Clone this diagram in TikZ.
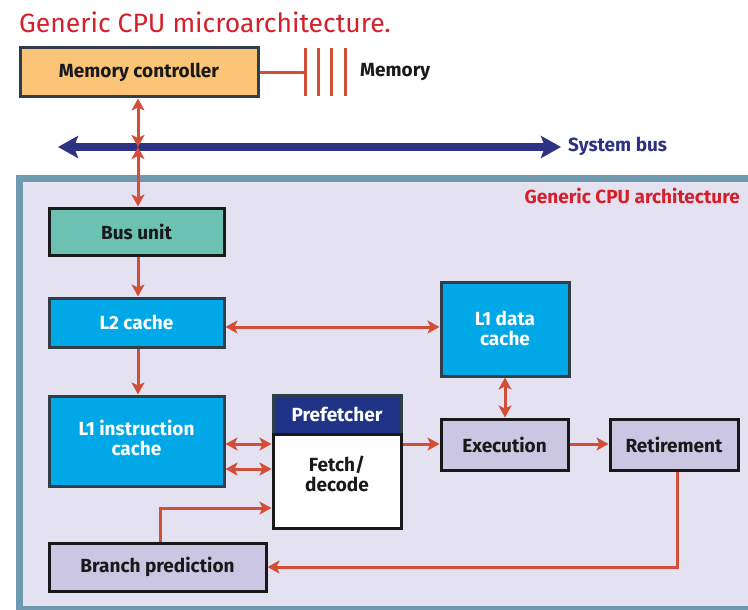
\documentclass[tikz,border=0pt]{standalone}
\usepackage{fontspec}
\setmainfont{Fira Sans}
\usetikzlibrary{arrows.meta}
\definecolor{mcorange}{HTML}{FBC477}
\definecolor{darkedge}{HTML}{2F3E48}
\definecolor{teal1}{HTML}{6BC2B2}
\definecolor{cyan1}{HTML}{00A8E8}
\definecolor{navy1}{HTML}{1F3487}
\definecolor{lav}{HTML}{CBC7E3}
\definecolor{panelfill}{HTML}{E4E2F1}
\definecolor{paneledge}{HTML}{6F9AB0}
\definecolor{arrred}{HTML}{D24E36}
\definecolor{titlered}{HTML}{D71E2B}
\definecolor{busblue}{HTML}{2E3282}
\tikzset{
  boxfont/.style={font=\fontsize{19}{21}\selectfont\bfseries},
  box/.style={draw=darkedge, line width=3pt, rectangle, inner sep=0pt, align=center, boxfont},
  darkbox/.style={box, draw=black!90},
  rarr/.style={draw=arrred, line width=3pt, >={Stealth[length=12pt,width=13pt,inset=3pt]}},
  plainline/.style={draw=arrred, line width=3pt},
}
\begin{document}
\begin{tikzpicture}[x=1pt,y=-1pt]
\useasboundingbox (0,0) rectangle (748,610);
\clip (0,0) rectangle (748,610);
\fill[white] (0,0) rectangle (748,610);
% title
\node[anchor=base west, inner sep=0pt, text=titlered, font=\fontsize{26.5}{30}\selectfont] (title) at (19,33) {Generic CPU microarchitecture.};
% panel
\fill[panelfill] (16,175) rectangle (780,612);
\draw[paneledge, line width=7pt] (19.5,178.5) rectangle (790,609.5);
\node[anchor=east, inner sep=0pt, text=titlered, boxfont] (cpulabel) at (740,196) {Generic CPU architecture};
% boxes
\node[box, fill=mcorange, minimum width=238pt, minimum height=49pt, text=black!90] (mc) at (139,72.5) {Memory controller};
\node[darkbox, fill=teal1, minimum width=175pt, minimum height=47pt, text=black!90] (bus) at (136.5,231.5) {Bus unit};
\node[box, fill=cyan1, minimum width=175pt, minimum height=49pt, text=white] (l2) at (136.5,322.5) {L2 cache};
\node[box, fill=cyan1, minimum width=128pt, minimum height=94pt, text=white,
      label={[yshift=1pt, boxfont, text=white, align=center]center:L1 data\\[-1pt]cache}] (l1d) at (505,329) {};
\node[box, fill=cyan1, minimum width=175pt, minimum height=90pt, text=white,
      label={[yshift=3pt, boxfont, text=white, align=center]center:L1 instruction\\[-1pt]cache}] (l1i) at (136.5,441) {};
\node[box, fill=navy1, minimum width=128pt, minimum height=39pt, text=white] (pre) at (337,414.5) {Prefetcher};
\node[darkbox, fill=white, minimum width=128pt, minimum height=94pt,
      label={[yshift=7pt, boxfont, text=black!90, align=center]center:Fetch/\\[-1pt]decode}] (fetch) at (337,481) {};
\node[darkbox, fill=lav, minimum width=127pt, minimum height=51pt, text=black!90] (exe) at (504.5,444.5) {Execution};
\node[darkbox, fill=lav, minimum width=128pt, minimum height=51pt, text=black!90] (ret) at (674,444.5) {Retirement};
\node[darkbox, fill=lav, minimum width=217pt, minimum height=48pt, text=black!90] (bp) at (157.5,567) {Branch prediction};
% memory
\coordinate (m1) at (305,48); \coordinate (m1b) at (305,96);
\coordinate (m2) at (318,48); \coordinate (m2b) at (318,96);
\coordinate (m3) at (331,48); \coordinate (m3b) at (331,96);
\coordinate (m4) at (345,48); \coordinate (m4b) at (345,96);
\draw[plainline] (mc.east) -- (mc.east -| m1);
\draw[plainline] (m1) -- (m1b);
\draw[plainline] (m2) -- (m2b);
\draw[plainline] (m3) -- (m3b);
\draw[plainline] (m4) -- (m4b);
\node[anchor=west, inner sep=0pt, boxfont, text=black!90] (memlabel) at (360,72) {Memory};
% system bus
\coordinate (sbl) at (58,147);
\coordinate (sbr) at (561,147);
\coordinate (sb) at (138,147);
\draw[busblue, line width=7pt, <->, >={Stealth[length=20pt,width=22pt,inset=4pt]}] (sbl) -- (sbr);
\node[anchor=west, inner sep=0pt, boxfont, text=busblue] (sblabel) at (568,146) {System bus};
% connectors
\draw[rarr, <->] (sb |- mc.south) -- (sb);
\draw[rarr, <->] (sb) -- (sb |- bus.north);
\draw[rarr, ->] (sb |- bus.south) -- (sb |- l2.north);
\draw[rarr, ->] (sb |- l2.south) -- (sb |- l1i.north);
\coordinate (y327) at (0,327);
\draw[rarr, <->] (l2.east |- y327) -- (l1d.west |- y327);
\draw[rarr, <->] (l1d.south) -- (l1d.south |- exe.north);
\coordinate (y444) at (0,444);
\coordinate (y469) at (0,469);
\coordinate (y508) at (0,508);
\draw[rarr, <->] (l1i.east |- y444) -- (fetch.west |- y444);
\draw[rarr, <->] (l1i.east |- y469) -- (fetch.west |- y469);
\draw[rarr, ->] (fetch.east |- y444) -- (exe.west |- y444);
\draw[rarr, ->] (exe.east |- y444) -- (ret.west |- y444);
\coordinate (rt) at (677,0);
\draw[rarr, ->] (rt |- ret.south) |- (bp.east);
\coordinate (bt) at (160,0);
\draw[rarr, ->] (bt |- bp.north) |- (fetch.west |- y508);
\end{tikzpicture}
\end{document}
